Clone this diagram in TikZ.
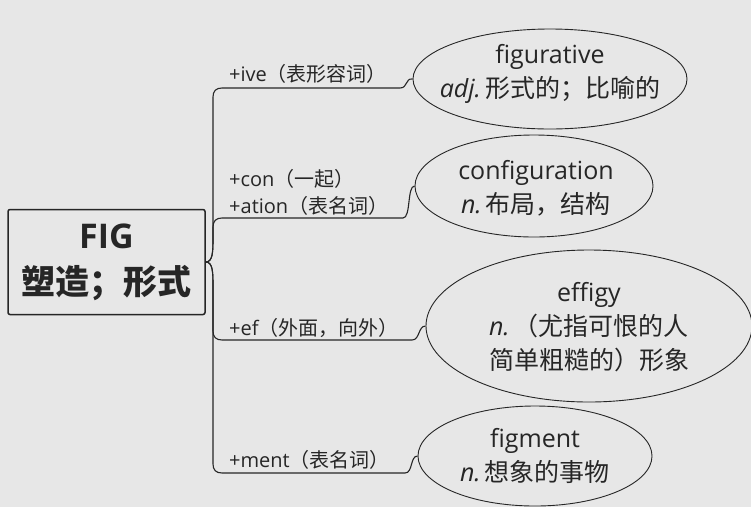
\documentclass[tikz,border=0pt]{standalone}
\usepackage{fontspec}
\setmainfont{Open Sans}
\newfontfamily\cjk{Noto Sans CJK SC}
\usetikzlibrary{shapes.geometric}
\newcommand\zh[1]{{\cjk #1}}
\definecolor{bg}{HTML}{E7E7E7}
\definecolor{ink}{HTML}{262626}
\tikzset{
  conn/.style={draw=ink, line width=1.1pt},
  rootbox/.style={draw=ink, line width=1.5pt, rounded corners=2pt, minimum width=197pt, minimum height=105pt, inner sep=0pt, align=center, text=ink, font=\fontsize{34}{46}\selectfont},
  leaf/.style={ellipse, draw=ink, line width=0.9pt, inner sep=0pt},
  leaftext/.style={inner sep=0pt, align=center, text=ink, font=\fontsize{25}{34}\selectfont},
  lbl/.style={anchor=west, inner sep=0pt, text=ink, font=\fontsize{20}{27}\selectfont, align=left}
}
\begin{document}
\begin{tikzpicture}[x=1pt, y=-1pt]
\fill[bg] (0,0) rectangle (751,507);
\useasboundingbox (0,0) rectangle (751,507);

\node[rootbox] (root) at (106.5,262) {\bfseries FIG\\\zh{\bfseries 塑造；形式}};

\node[leaf, minimum width=274pt, minimum height=100pt] (e1) at (550,79) {};
\node[leaftext] (t1) at (550,74) {figurative\\\textit{adj.}\,\zh{形式的；比喻的}};
\node[leaf, minimum width=238pt, minimum height=102pt] (e2) at (534,186) {};
\node[leaftext] (t2) at (536,188) {configuration\\\textit{n.}\,\zh{布局，结构}};
\node[leaf, minimum width=326pt, minimum height=152pt] (e3) at (589,326) {};
\node[leaftext] (t3) at (589,327) {effigy\\\textit{n.}\,\zh{（尤指可恨的人}\\\zh{简单粗糙的）形象}};
\node[leaf, minimum width=234pt, minimum height=100pt] (e4) at (535,456) {};
\node[leaftext] (t4) at (535,456) {figment\\\textit{n.}\,\zh{想象的事物}};

\node[lbl] (l1) at (229,74) {+ive\zh{（表形容词）}};
\node[lbl] (l2) at (229,192) {+con\zh{（一起）}\\+ation\zh{（表名词）}};
\node[lbl] (l3) at (229,328) {+ef\zh{（外面，向外）}};
\node[lbl] (l4) at (229,460) {+ment\zh{（表名词）}};

\draw[conn] (root.east) .. controls +(7,0) and +(0,14) .. (213,238) -- (213,97) .. controls (213,91) and (216,88) .. (222,88) -- (400,88) .. controls (408,88) and (405,78) .. (e1.west);
\draw[conn] (root.east) .. controls +(7,0) and +(0,14) .. (213,238) -- (213,227) .. controls (213,221) and (216,218) .. (222,218) -- (403,218) .. controls (411,218) and (407,186) .. (e2.west);
\draw[conn] (root.east) .. controls +(7,0) and +(0,-14) .. (213,286) -- (213,331) .. controls (213,337) and (216,340) .. (222,340) -- (412,340) .. controls (420,340) and (418,326) .. (e3.west);
\draw[conn] (root.east) .. controls +(7,0) and +(0,-14) .. (213,286) -- (213,464) .. controls (213,470) and (216,473) .. (222,473) -- (405,473) .. controls (413,473) and (410,456) .. (e4.west);
\end{tikzpicture}
\end{document}
